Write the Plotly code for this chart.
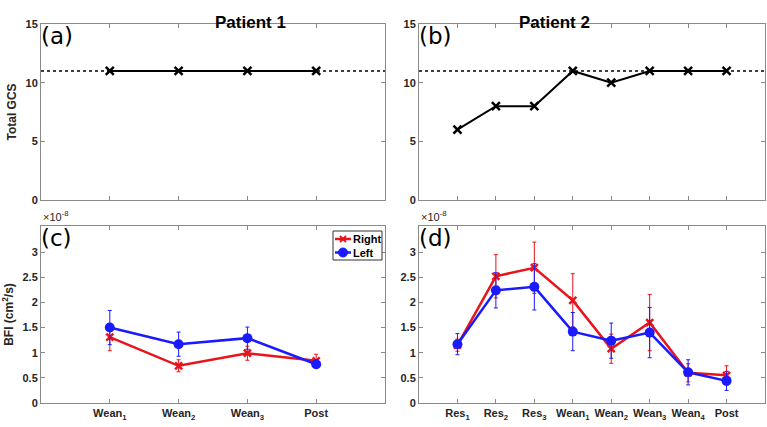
import plotly.graph_objects as go

# panel (a)/(b): total GCS
p1_gcs = [11, 11, 11, 11]
p2_gcs = [6, 8, 8, 11, 10, 11, 11, 11]
gcs_ref = 11
gcs_ticks = [0, 5, 10, 15]

# panel (c)/(d): BFI (x1e-8)
p1_labels = ["Wean<sub>1</sub>", "Wean<sub>2</sub>", "Wean<sub>3</sub>", "Post"]
p2_labels = ["Res<sub>1</sub>", "Res<sub>2</sub>", "Res<sub>3</sub>", "Wean<sub>1</sub>",
             "Wean<sub>2</sub>", "Wean<sub>3</sub>", "Wean<sub>4</sub>", "Post"]
bfi_ticks = [0, 0.5, 1, 1.5, 2, 2.5, 3]

p1_right = [1.31, 0.74, 0.99, 0.84]
p1_right_err = [0.27, 0.12, 0.14, 0.13]
p1_left = [1.50, 1.17, 1.29, 0.77]
p1_left_err = [0.34, 0.24, 0.22, 0.08]

p2_right = [1.15, 2.52, 2.69, 2.04, 1.08, 1.60, 0.60, 0.55]
p2_right_err = [0.12, 0.43, 0.51, 0.53, 0.29, 0.56, 0.18, 0.19]
p2_left = [1.17, 2.24, 2.31, 1.42, 1.24, 1.40, 0.61, 0.44]
p2_left_err = [0.21, 0.35, 0.46, 0.38, 0.35, 0.50, 0.25, 0.19]

RED = "#e8141b"
BLUE = "#1a1aff"
AX = "#8a8a8a"
FONT = "Liberation Sans"

x1 = list(range(1, len(p1_gcs) + 1))
x2 = list(range(1, len(p2_gcs) + 1))

fig = go.Figure()

gcs_line = dict(color="black", width=2)
gcs_marker = dict(symbol="x-thin", size=8, line=dict(color="black", width=2.5), color="black")
fig.add_trace(go.Scatter(x=x1, y=p1_gcs, mode="lines+markers", line=gcs_line,
                         marker=gcs_marker, xaxis="x", yaxis="y", showlegend=False))
fig.add_trace(go.Scatter(x=x2, y=p2_gcs, mode="lines+markers", line=gcs_line,
                         marker=gcs_marker, xaxis="x2", yaxis="y2", showlegend=False))


def bfi(x, y, err, color, symbol, size, name, xa, ya):
    if symbol == "x-thin":
        mk = dict(symbol=symbol, size=size, color=color, line=dict(color=color, width=2.5))
    else:
        mk = dict(symbol=symbol, size=size, color=color)
    return go.Scatter(x=x, y=y, mode="lines+markers", name=name,
                      line=dict(color=color, width=2.5), marker=mk,
                      error_y=dict(type="data", array=err, color=color, thickness=1, width=2),
                      xaxis=xa, yaxis=ya, showlegend=False)


fig.add_trace(bfi(x1, p1_right, p1_right_err, RED, "x-thin", 7, "Right", "x3", "y3"))
fig.add_trace(bfi(x1, p1_left, p1_left_err, BLUE, "circle", 10, "Left", "x3", "y3"))
fig.add_trace(bfi(x2, p2_right, p2_right_err, RED, "x-thin", 7, "Right", "x4", "y4"))
fig.add_trace(bfi(x2, p2_left, p2_left_err, BLUE, "circle", 10, "Left", "x4", "y4"))

W, H = 767, 427
lx = [41 / W, 385 / W]
rx = [419 / W, 765 / W]
ty = [1 - 200 / H, 1 - 24 / H]
by = [1 - 403 / H, 1 - 226 / H]

tickfont = dict(family=FONT, size=11, color="#262626")


def xax(domain, anchor, n, labels=None):
    d = dict(domain=domain, anchor=anchor, range=[0, n + 1], tickvals=list(range(1, n + 1)),
             showline=True, mirror="ticks", linecolor=AX, linewidth=1, ticks="inside",
             ticklen=4, tickcolor=AX, showgrid=False, zeroline=False, tickfont=tickfont,
             automargin=False)
    if labels is None:
        d["showticklabels"] = False
    else:
        d["ticktext"] = ["<b>%s</b>" % s for s in labels]
    return d


def yax(domain, anchor, rng, ticks, title=None):
    d = dict(domain=domain, anchor=anchor, range=rng, tickvals=ticks,
             ticktext=["<b>%g</b>" % v for v in ticks], showline=True,
             mirror="ticks", linecolor=AX, linewidth=1, ticks="inside", ticklen=4,
             tickcolor=AX, showgrid=False, zeroline=False, tickfont=tickfont,
             automargin=False)
    if title:
        d["title"] = dict(text=title, font=dict(family=FONT, size=12, color="#262626"), standoff=6)
    return d


fig.update_layout(
    width=W, height=H, margin=dict(l=0, r=0, t=0, b=0, autoexpand=False),
    paper_bgcolor="white", plot_bgcolor="white", showlegend=False,
    xaxis=xax(lx, "y", 4),
    yaxis=yax(ty, "x", [0, 15], gcs_ticks, "<b>Total GCS</b>"),
    xaxis2=xax(rx, "y2", 8),
    yaxis2=yax(ty, "x2", [0, 15], gcs_ticks),
    xaxis3=xax(lx, "y3", 4, p1_labels),
    yaxis3=yax(by, "x3", [0, 3.52], bfi_ticks, "<b>BFI (cm<sup>2</sup>/s)</b>"),
    xaxis4=xax(rx, "y4", 8, p2_labels),
    yaxis4=yax(by, "x4", [0, 3.52], bfi_ticks),
    font=dict(family=FONT),
)

for xr in ["x", "x2"]:
    yr = "y" if xr == "x" else "y2"
    fig.add_shape(type="line", xref=xr + " domain", yref=yr, x0=0, x1=1,
                  y0=gcs_ref, y1=gcs_ref, line=dict(color="black", width=1.5, dash="dot"),
                  layer="below")

# compact MATLAB-style legend inside panel (c)
def px(x):
    return x / W


def py(y):
    return 1 - y / H


fig.add_shape(type="rect", xref="paper", yref="paper", x0=px(333), x1=px(382),
              y0=py(260), y1=py(231), line=dict(color="#333", width=1), fillcolor="white")
for name, color, yy in [("Right", RED, 239), ("Left", BLUE, 252.5)]:
    fig.add_shape(type="line", xref="paper", yref="paper", x0=px(335), x1=px(351),
                  y0=py(yy), y1=py(yy), line=dict(color=color, width=2.5))
    if name == "Right":
        for d in (-1, 1):
            fig.add_shape(type="line", xref="paper", yref="paper", x0=px(340), x1=px(346),
                          y0=py(yy - 3 * d), y1=py(yy + 3 * d), line=dict(color=color, width=2))
    else:
        fig.add_shape(type="circle", xref="paper", yref="paper", x0=px(338.5), x1=px(347.5),
                      y0=py(yy + 4.5), y1=py(yy - 4.5), line=dict(color=color, width=1),
                      fillcolor=color)
    fig.add_annotation(text="<b>%s</b>" % name, x=px(351), y=py(yy), xref="paper", yref="paper",
                       xanchor="left", yanchor="middle", showarrow=False,
                       font=dict(family=FONT, size=11, color="black"))

panel_text = [("(a)", lx[0], ty[1]), ("(b)", rx[0], ty[1]), ("(c)", lx[0], by[1]), ("(d)", rx[0], by[1])]
for t, x, y in panel_text:
    fig.add_annotation(text=t, x=x - 0.002, y=y + 0.008, xref="paper", yref="paper", xanchor="left",
                       yanchor="top", showarrow=False,
                       font=dict(family="DejaVu Sans", size=23, color="black"))

for t, dom in [("Patient 1", lx), ("Patient 2", rx)]:
    fig.add_annotation(text="<b>%s</b>" % t, x=(dom[0] + dom[1]) / 2, y=1 - 11 / H,
                       xref="paper", yref="paper", showarrow=False,
                       font=dict(family=FONT, size=17, color="black"))

for dom in [lx, rx]:
    fig.add_annotation(text="×10<sup>-8</sup>", x=dom[0], y=by[1] + 0.002, xref="paper",
                       yref="paper", xanchor="left", yanchor="bottom", showarrow=False,
                       font=dict(family=FONT, size=11, color="#262626"))

fig.write_html("out.html", config={"displayModeBar": False},
               post_script="document.body.style.margin='0';")
